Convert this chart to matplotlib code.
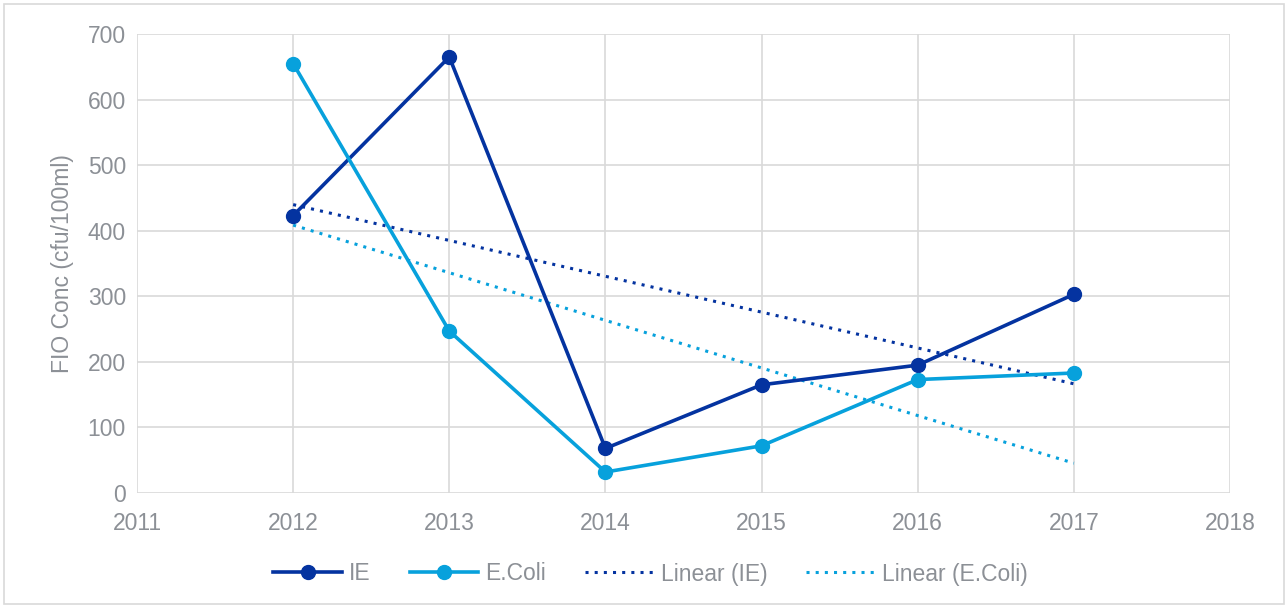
import numpy as np
import matplotlib
matplotlib.use("Agg")
import matplotlib.pyplot as plt
from matplotlib.patches import Rectangle

plt.rcParams["font.family"] = ["Liberation Sans", "DejaVu Sans"]

years = [2012, 2013, 2014, 2015, 2016, 2017]
ie = [423, 665, 68, 165, 195, 303]
ecoli = [655, 247, 32, 72, 173, 183]

IE_COL = "#0433a0"
EC_COL = "#07a1dc"
TXT = "#8c9096"
GRID = "#d9d9d9"

fig = plt.figure(figsize=(12.88, 6.08), dpi=100)
ax = fig.add_axes([137 / 1288, 1 - 493 / 608, (1230 - 137) / 1288, (493 - 34) / 608])

# gridlines on both axes, like the Excel original
for yv in range(0, 701, 100):
    ax.axhline(yv, color=GRID, lw=1.2, zorder=0)
for xv in range(2011, 2019):
    ax.axvline(xv, color=GRID, lw=1.2, zorder=0)

ax.plot(years, ie, color=IE_COL, lw=2.6, marker="o", ms=10, label="IE", zorder=3)
ax.plot(years, ecoli, color=EC_COL, lw=2.6, marker="o", ms=10, label="E.Coli", zorder=3)

# linear trend lines
xs = np.array(years, dtype=float)
for vals, col, name in [(ie, IE_COL, "Linear (IE)"), (ecoli, EC_COL, "Linear (E.Coli)")]:
    k, b = np.polyfit(xs, vals, 1)
    ax.plot(xs[[0, -1]], k * xs[[0, -1]] + b, color=col, lw=2.2,
            linestyle=(0, (1, 2)), label=name, zorder=2)

ax.set_xlim(2011, 2018)
ax.set_ylim(0, 700)
ax.set_xticks(range(2011, 2019))
ax.set_yticks(range(0, 701, 100))
ax.tick_params(length=0, labelsize=16.5, colors=TXT)
ax.tick_params(axis="y", pad=8)
ax.tick_params(axis="x", pad=14)
for s in ax.spines.values():
    s.set_visible(False)
ax.set_ylabel("FIO Conc (cfu/100ml)", fontsize=16.5, color=TXT, labelpad=10)

leg = fig.legend(loc="center", bbox_to_anchor=(0.505, 1 - 574 / 608), ncol=4, frameon=False,
                 fontsize=16.5, handlelength=3.0, columnspacing=1.7, handletextpad=0.3)
for t in leg.get_texts():
    t.set_color(TXT)

fig.patches.append(Rectangle((4 / 1288, 4 / 608), 1280 / 1288, 600 / 608,
                             transform=fig.transFigure, fill=False,
                             edgecolor="#d9d9d9", lw=1.2))

fig.savefig("out.png", dpi=100, facecolor="white")
